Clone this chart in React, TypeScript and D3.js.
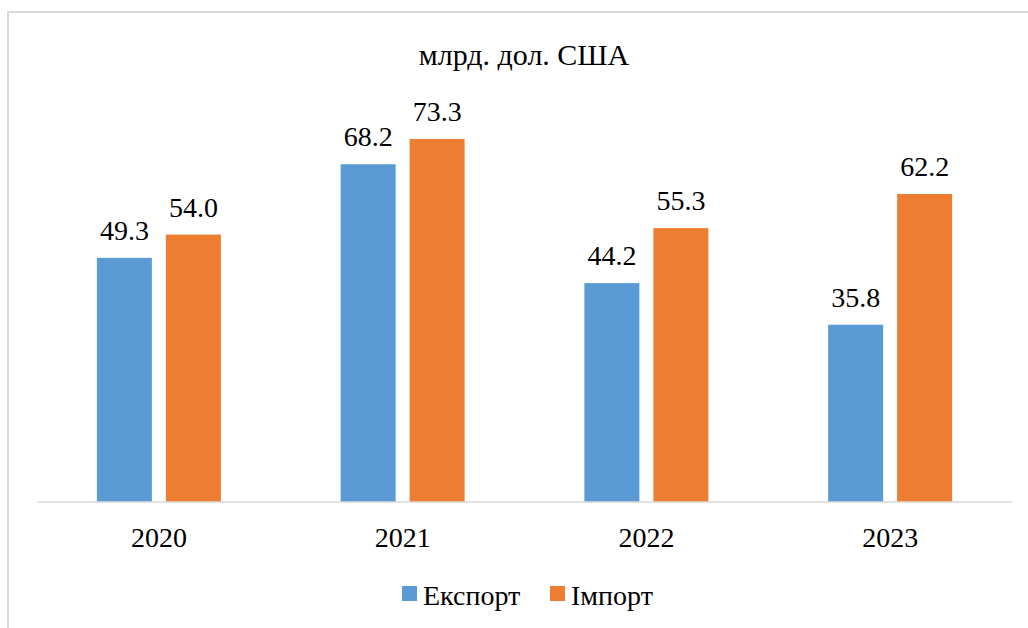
import React from "react";
import * as d3 from "d3";

const categories = ["2020", "2021", "2022", "2023"];
const exportValues = [49.3, 68.2, 44.2, 35.8];
const importValues = [54.0, 73.3, 55.3, 62.2];
const seriesNames = ["Експорт", "Імпорт"];
const colors = ["#5B9BD5", "#ED7D31"];
const title = "млрд. дол. США";

const FONT = "Liberation Serif";

export default function App() {
  const W = 1028, H = 628;
  const left = 37, right = 1012, top = 105.8, bottom = 502;

  const x0 = d3.scaleBand<string>().domain(categories).range([left, right]);
  const y = d3.scaleLinear().domain([0, 80]).range([bottom, top]);
  const barW = 55;
  const gap = 14;
  const series = [exportValues, importValues];

  return (
    <svg width={W} height={H} style={{ position: "absolute", left: 0, top: 0 }}>
      <style>{`text { font-family: "Liberation Serif", "Times New Roman", serif; fill: #000; }`}</style>
      <rect x={8} y={12} width={1040} height={640} fill="none" stroke="#d9d9d9" strokeWidth={2} />
      <text x={524} y={65} textAnchor="middle" fontFamily={FONT} fontSize={30}>{title}</text>
      {categories.map((c, i) => {
        const cx = (x0(c) as number) + x0.bandwidth() / 2;
        return series.map((vals, s) => {
          const bx = s === 0 ? cx - gap / 2 - barW : cx + gap / 2;
          const v = vals[i];
          return (
            <g key={c + s}>
              <rect x={bx} y={y(v)} width={barW} height={bottom - y(v)} fill={colors[s]} />
              <text x={bx + barW / 2} y={y(v) - 18} textAnchor="middle" fontFamily={FONT} fontSize={28}>
                {v.toFixed(1)}
              </text>
            </g>
          );
        });
      })}
      {categories.map((c) => (
        <text key={"c" + c} x={(x0(c) as number) + x0.bandwidth() / 2} y={547} textAnchor="middle" fontFamily={FONT} fontSize={28}>
          {c}
        </text>
      ))}
      <line x1={left} x2={right} y1={bottom} y2={bottom} stroke="#d9d9d9" strokeWidth={1.5} />
      {seriesNames.map((n, i) => {
        const lx = i === 0 ? 402 : 550;
        return (
          <g key={"l" + n}>
            <rect x={lx} y={586} width={15} height={15} fill={colors[i]} />
            <text x={lx + 21} y={605} fontFamily={FONT} fontSize={28}>{n}</text>
          </g>
        );
      })}
    </svg>
  );
}
